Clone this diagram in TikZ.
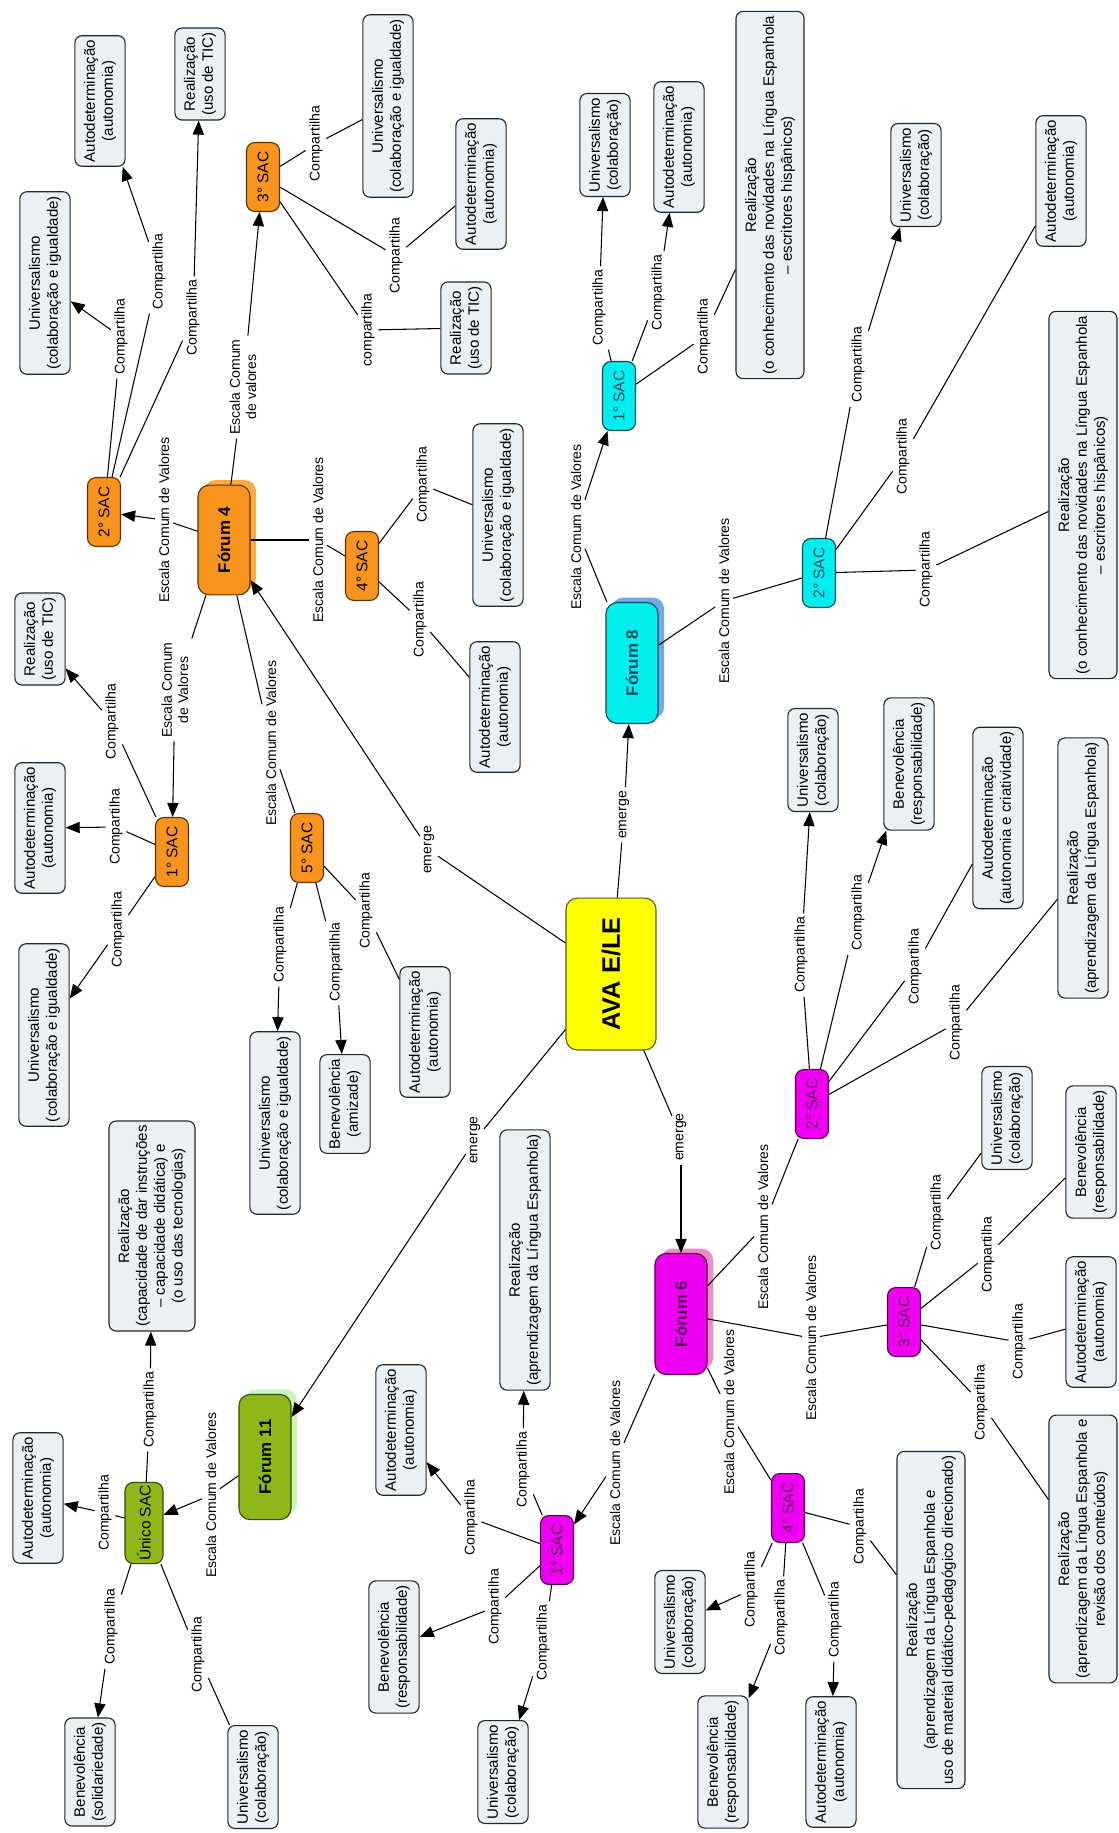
\documentclass[tikz,border=0pt]{standalone}
\usepackage{fontspec}
\setmainfont{Liberation Sans}
\usepackage{xcolor}
\usepackage{tikz}
\usetikzlibrary{arrows.meta}

\definecolor{caixa}{RGB}{234,240,244}
\definecolor{laranja}{RGB}{247,148,30}
\definecolor{laranjaborda}{RGB}{90,50,10}
\definecolor{laranjasombra}{RGB}{250,172,64}
\definecolor{ciano}{RGB}{0,238,240}
\definecolor{cianoborda}{RGB}{20,70,80}
\definecolor{cianotexto}{RGB}{25,75,95}
\definecolor{cianosombra}{RGB}{112,170,230}
\definecolor{magentaF}{RGB}{240,0,240}
\definecolor{magentaborda}{RGB}{80,0,80}
\definecolor{magentatexto}{RGB}{90,0,95}
\definecolor{magentasombra}{RGB}{240,140,195}
\definecolor{verde}{RGB}{142,184,24}
\definecolor{verdeborda}{RGB}{60,70,10}
\definecolor{verdesombra}{RGB}{200,245,185}
\definecolor{amarelo}{RGB}{255,255,0}
\definecolor{amareloborda}{RGB}{90,90,20}

\begin{document}
\begin{tikzpicture}[x=0.025cm, y=-0.025cm, >={Triangle[length=10pt,width=8pt]},
    conceito/.style={draw=black!85, line width=0.8pt, fill=caixa, rounded corners=5pt, rotate=90,
        align=center, inner xsep=3pt, inner ysep=6.5pt, font=\fontsize{10.7}{12.7}\selectfont},
    sac/.style={line width=0.8pt, rounded corners=6pt, rotate=90,
        minimum width=49pt, minimum height=23.5pt, inner sep=2pt, font=\fontsize{11}{13}\selectfont},
    forum/.style={line width=0.8pt, rounded corners=8pt, rotate=90,
        minimum width=86pt, minimum height=37pt, inner sep=2pt, font=\bfseries\fontsize{12}{14}\selectfont},
    sombra/.style={forum, draw=none},
    ava/.style={draw=amareloborda, line width=0.8pt, rounded corners=8pt, rotate=90, fill=amarelo,
        minimum width=108pt, minimum height=64pt, font=\bfseries\fontsize{18}{20}\selectfont},
    cor4/.style={fill=laranja, draw=laranjaborda},
    cor8/.style={fill=ciano, draw=cianoborda, text=cianotexto},
    cor6/.style={fill=magentaF, draw=magentaborda, text=magentatexto},
    cor11/.style={fill=verde, draw=verdeborda},
    rotulo/.style={rotate=90, align=center, inner sep=2.5pt, font=\fontsize{10}{11.5}\selectfont},
    liga/.style={line width=0.75pt},
    seta/.style={liga, ->}]

    \useasboundingbox (0,0) rectangle (1118,1833);

    % =================================================================
    % 1. NÓ CENTRAL E FÓRUNS (com sombras deslocadas)
    % =================================================================
    \node[ava] (AVA) at (611,974) {AVA E/LE};

    \node[sombra, fill=laranjasombra, minimum width=78pt] (F4sh) at (230,535) {\phantom{Fórum 4}};
    \node[sombra, fill=cianosombra] (F8sh) at (638,658) {\phantom{Fórum 8}};
    \node[sombra, fill=magentasombra] (F6sh) at (687,1309) {\phantom{Fórum 6}};
    \node[sombra, fill=verdesombra, minimum width=89pt] (F11sh) at (271,1452) {\phantom{Fórum 11}};

    \node[forum, cor4, minimum width=78pt] (F4) at (224,540) {Fórum 4};
    \node[forum, cor8] (F8) at (632,663) {Fórum 8};
    \node[forum, cor6] (F6) at (681,1314) {Fórum 6};
    \node[forum, cor11, minimum width=89pt] (F11) at (265,1457) {Fórum 11};

    % =================================================================
    % 2. OS SAC DE CADA FÓRUM
    % =================================================================
    \node[sac, cor4] (S2o) at (104,512) {2° SAC};
    \node[sac, cor4] (S3o) at (263,177) {3° SAC};
    \node[sac, cor4] (S1o) at (172,852) {1° SAC};
    \node[sac, cor4] (S4o) at (362,566) {4° SAC};
    \node[sac, cor4] (S5o) at (307,848) {5° SAC};

    \node[sac, cor8] (S1c) at (619,396) {1° SAC};
    \node[sac, cor8] (S2c) at (819,573) {2° SAC};

    \node[sac, cor6] (S2m) at (812,1104) {2° SAC};
    \node[sac, cor6] (S3m) at (904,1322) {3° SAC};
    \node[sac, cor6] (S1m) at (557,1550) {1° SAC};
    \node[sac, cor6] (S4m) at (788,1508) {4° SAC};

    \node[sac, cor11, minimum height=27pt] (SU) at (144,1523) {Único SAC};

    % =================================================================
    % 3. VALORES (caixas cinza-claras)
    % =================================================================
    % Fórum 4
    \node[conceito] (o2U) at (45,283) {Universalismo\\(colaboração e igualdade)};
    \node[conceito] (o2A) at (100,101) {Autodeterminação\\(autonomia)};
    \node[conceito] (o2R) at (200,74) {Realização\\(uso de TIC)};
    \node[conceito] (o3U) at (388,106) {Universalismo\\(colaboração e igualdade)};
    \node[conceito] (o3A) at (481,184) {Autodeterminação\\(autonomia)};
    \node[conceito] (o3R) at (466,328) {Realização\\(uso de TIC)};
    \node[conceito] (o4U) at (498,515) {Universalismo\\(colaboração e igualdade)};
    \node[conceito] (o4A) at (495,707) {Autodeterminação\\(autonomia)};
    \node[conceito] (o1R) at (40,639) {Realização\\(uso de TIC)};
    \node[conceito] (o1A) at (40,828) {Autodeterminação\\(autonomia)};
    \node[conceito] (o1U) at (44,1035) {Universalismo\\(colaboração e igualdade)};
    \node[conceito] (o5U) at (275,1123) {Universalismo\\(colaboração e igualdade)};
    \node[conceito] (o5B) at (345,1104) {Benevolência\\(amizade)};
    \node[conceito] (o5A) at (425,1032) {Autodeterminação\\(autonomia)};

    % Fórum 8
    \node[conceito] (c1U) at (605,145) {Universalismo\\(colaboração)};
    \node[conceito] (c1A) at (679,147) {Autodeterminação\\(autonomia)};
    \node[conceito] (c1R) at (770,195) {Realização\\(o conhecimento das novidades na Língua Espanhola\\– escritores hispânicos)};
    \node[conceito] (c2U) at (916,175) {Universalismo\\(colaboração)};
    \node[conceito] (c2A) at (1061,181) {Autodeterminação\\(autonomia)};
    \node[conceito] (c2R) at (1083,495) {Realização\\(o conhecimento das novidades na Língua Espanhola\\– escritores hispânicos)};

    % Fórum 6
    \node[conceito] (m2U) at (813,760) {Universalismo\\(colaboração)};
    \node[conceito] (m2B) at (909,764) {Benevolência\\(responsabilidade)};
    \node[conceito] (m2A) at (998,818) {Autodeterminação\\(autonomia e criatividade)};
    \node[conceito] (m2R) at (1083,868) {Realização\\(aprendizagem da Língua Espanhola)};
    \node[conceito] (m3U) at (1007,1118) {Universalismo\\(colaboração)};
    \node[conceito] (m3B) at (1091,1152) {Benevolência\\(responsabilidade)};
    \node[conceito] (m3A) at (1091,1322) {Autodeterminação\\(autonomia)};
    \node[conceito] (m3R) at (1083,1549) {Realização\\(aprendizagem da Língua Espanhola e\\revisão dos conteúdos)};
    \node[conceito] (m1R) at (525,1260) {Realização\\(aprendizagem da Língua Espanhola)};
    \node[conceito] (m1A) at (401,1430) {Autodeterminação\\(autonomia)};
    \node[conceito] (m1B) at (394,1647) {Benevolência\\(responsabilidade)};
    \node[conceito] (m1U) at (503,1772) {Universalismo\\(colaboração)};
    \node[conceito] (m4U) at (680,1622) {Universalismo\\(colaboração)};
    \node[conceito] (m4B) at (723,1762) {Benevolência\\(responsabilidade)};
    \node[conceito] (m4A) at (831,1762) {Autodeterminação\\(autonomia)};
    \node[conceito] (m4R) at (931,1620) {Realização\\(aprendizagem da Língua Espanhola e\\uso de material didático-pedagógico direcionado)};

    % Fórum 11
    \node[conceito] (gR) at (152,1226) {Realização\\(capacidade de dar instruções\\– capacidade didática) e\\(o uso das tecnologias)};
    \node[conceito] (gA) at (38,1498) {Autodeterminação\\(autonomia)};
    \node[conceito] (gB) at (90,1772) {Benevolência\\(solidariedade)};
    \node[conceito] (gU) at (253,1777) {Universalismo\\(colaboração)};

    % =================================================================
    % 4. PALAVRAS DE LIGAÇÃO
    % =================================================================
    \node[rotulo] (eF4) at (429,850) {emerge};
    \node[rotulo] (eF8) at (624,815) {emerge};
    \node[rotulo] (eF6) at (681,1137) {emerge};
    \node[rotulo] (eF11) at (475,1140) {emerge};

    \node[rotulo] (k2o) at (164,520) {Escala Comum de Valores};
    \node[rotulo] (k3o) at (243,387) {Escala Comum\\de valores};
    \node[rotulo] (k1o) at (175,690) {Escala Comum\\de Valores};
    \node[rotulo] (k4o) at (318,540) {Escala Comum de Valores};
    \node[rotulo] (k5o) at (271,743) {Escala Comum de Valores};
    \node[rotulo] (k1c) at (576,527) {Escala Comum de Valores};
    \node[rotulo] (k2c) at (724,601) {Escala Comum de Valores};
    \node[rotulo] (k2m) at (763,1227) {Escala Comum de Valores};
    \node[rotulo] (k3m) at (811,1338) {Escala Comum de Valores};
    \node[rotulo] (k1m) at (615,1463) {Escala Comum de Valores};
    \node[rotulo] (k4m) at (729,1412) {Escala Comum de Valores};
    \node[rotulo] (kU) at (211,1495) {Escala Comum de Valores};

    \node[rotulo] (lo2U) at (121,337) {Compartilha};
    \node[rotulo] (lo2A) at (159,272) {Compartilha};
    \node[rotulo] (lo2R) at (193,318) {Compartilha};
    \node[rotulo] (lo3U) at (316,144) {Compartilha};
    \node[rotulo] (lo3A) at (396,256) {Compartilha};
    \node[rotulo] (lo3R) at (368,330) {compartilha};
    \node[rotulo] (lo1R) at (112,722) {Compartilha};
    \node[rotulo] (lo1A) at (116,827) {Compartilha};
    \node[rotulo] (lo1U) at (118,930) {Compartilha};
    \node[rotulo] (lo4U) at (423,485) {Compartilha};
    \node[rotulo] (lo4A) at (420,620) {Compartilha};
    \node[rotulo] (lo5U) at (280,945) {Compartilha};
    \node[rotulo] (lo5B) at (336,962) {Compartilhla};
    \node[rotulo] (lo5A) at (366,911) {Compartilha};

    \node[rotulo] (lc1U) at (599,308) {Compartilha};
    \node[rotulo] (lc1A) at (658,293) {Compartilha};
    \node[rotulo] (lc1R) at (704,337) {Compartilha};
    \node[rotulo] (lc2U) at (858,365) {Compartilha};
    \node[rotulo] (lc2A) at (903,457) {Compartilha};
    \node[rotulo] (lc2R) at (926,570) {Compartilha};

    \node[rotulo] (lm2U) at (801,955) {Compartilha};
    \node[rotulo] (lm2B) at (858,913) {Compartilha};
    \node[rotulo] (lm2A) at (915,967) {Compartilha};
    \node[rotulo] (lm2R) at (956,1023) {Compartilha};
    \node[rotulo] (lm3U) at (937,1213) {Compartilha};
    \node[rotulo] (lm3B) at (988,1255) {Compartilha};
    \node[rotulo] (lm3A) at (1019,1342) {Compartilha};
    \node[rotulo] (lm3R) at (981,1403) {Compartilha};
    \node[rotulo] (lm1R) at (523,1470) {Compartilha};
    \node[rotulo] (lm1A) at (471,1518) {Compartilha};
    \node[rotulo] (lm1B) at (495,1607) {Compartilha};
    \node[rotulo] (lm1U) at (543,1643) {Compartilha};
    \node[rotulo] (lm4U) at (751,1590) {Compartilha};
    \node[rotulo] (lm4B) at (781,1618) {Compartilha};
    \node[rotulo] (lm4A) at (835,1620) {Compartilha};
    \node[rotulo] (lm4R) at (860,1527) {Compartilha};

    \node[rotulo] (lgR) at (150,1410) {Compartilha};
    \node[rotulo] (lgA) at (105,1513) {Compartilha};
    \node[rotulo] (lgB) at (111,1627) {Compartilha};
    \node[rotulo] (lgU) at (198,1655) {Compartilha};

    % =================================================================
    % 5. LIGAÇÕES (nó -> palavra -> nó)
    % =================================================================
    % AVA emerge nos fóruns
    \draw[liga] (AVA) -- (eF4);  \draw[seta] (eF4) -- (F4);
    \draw[liga] (AVA) -- (eF8);  \draw[seta] (eF8) -- (F8);
    \draw[liga] (AVA) -- (eF6);  \draw[seta] (eF6) -- (F6);
    \draw[liga] (AVA) -- (eF11); \draw[seta] (eF11) -- (F11);

    % Fórum 4
    \draw[liga] (F4) -- (k2o); \draw[seta] (k2o) -- (S2o);
    \draw[liga] (F4) -- (k3o); \draw[seta] (k3o) -- (S3o);
    \draw[liga] (F4) -- (k1o); \draw[seta] (k1o) -- (S1o);
    \draw[liga] (F4) -- (k4o); \draw[liga] (k4o) -- (S4o);
    \draw[liga] (F4) -- (k5o); \draw[liga] (k5o) -- (S5o);

    \draw[liga] (S2o) -- (lo2U); \draw[seta] (lo2U) -- (o2U);
    \draw[liga] (S2o) -- (lo2A); \draw[seta] (lo2A) -- (o2A);
    \draw[liga] (S2o) -- (lo2R); \draw[seta] (lo2R) -- (o2R);
    \draw[liga] (S3o) -- (lo3U); \draw[liga] (lo3U) -- (o3U);
    \draw[liga] (S3o) -- (lo3A); \draw[liga] (lo3A) -- (o3A);
    \draw[liga] (S3o) -- (lo3R); \draw[liga] (lo3R) -- (o3R);
    \draw[liga] (S1o) -- (lo1R); \draw[seta] (lo1R) -- (o1R);
    \draw[liga] (S1o) -- (lo1A); \draw[seta] (lo1A) -- (o1A);
    \draw[liga] (S1o) -- (lo1U); \draw[seta] (lo1U) -- (o1U);
    \draw[liga] (S4o) -- (lo4U); \draw[liga] (lo4U) -- (o4U);
    \draw[liga] (S4o) -- (lo4A); \draw[liga] (lo4A) -- (o4A);
    \draw[liga] (S5o) -- (lo5U); \draw[seta] (lo5U) -- (o5U);
    \draw[liga] (S5o) -- (lo5B); \draw[seta] (lo5B) -- (o5B);
    \draw[liga] (S5o) -- (lo5A); \draw[liga] (lo5A) -- (o5A);

    % Fórum 8
    \draw[liga] (F8) -- (k1c); \draw[seta] (k1c) -- (S1c);
    \draw[liga] (F8) -- (k2c); \draw[liga] (k2c) -- (S2c);

    \draw[liga] (S1c) -- (lc1U); \draw[seta] (lc1U) -- (c1U);
    \draw[liga] (S1c) -- (lc1A); \draw[seta] (lc1A) -- (c1A);
    \draw[liga] (S1c) -- (lc1R); \draw[liga] (lc1R) -- (c1R);
    \draw[liga] (S2c) -- (lc2U); \draw[seta] (lc2U) -- (c2U);
    \draw[liga] (S2c) -- (lc2A); \draw[liga] (lc2A) -- (c2A);
    \draw[liga] (S2c) -- (lc2R); \draw[liga] (lc2R) -- (c2R);

    % Fórum 6
    \draw[liga] (F6) -- (k2m); \draw[liga] (k2m) -- (S2m);
    \draw[liga] (F6) -- (k3m); \draw[liga] (k3m) -- (S3m);
    \draw[liga] (F6) -- (k1m); \draw[seta] (k1m) -- (S1m);
    \draw[liga] (F6) -- (k4m); \draw[liga] (k4m) -- (S4m);

    \draw[liga] (S2m) -- (lm2U); \draw[seta] (lm2U) -- (m2U);
    \draw[liga] (S2m) -- (lm2B); \draw[seta] (lm2B) -- (m2B);
    \draw[liga] (S2m) -- (lm2A); \draw[liga] (lm2A) -- (m2A);
    \draw[liga] (S2m) -- (lm2R); \draw[liga] (lm2R) -- (m2R);
    \draw[liga] (S3m) -- (lm3U); \draw[liga] (lm3U) -- (m3U);
    \draw[liga] (S3m) -- (lm3B); \draw[liga] (lm3B) -- (m3B);
    \draw[liga] (S3m) -- (lm3A); \draw[liga] (lm3A) -- (m3A);
    \draw[liga] (S3m) -- (lm3R); \draw[liga] (lm3R) -- (m3R);
    \draw[liga] (S1m) -- (lm1R); \draw[seta] (lm1R) -- (m1R);
    \draw[liga] (S1m) -- (lm1A); \draw[seta] (lm1A) -- (m1A);
    \draw[liga] (S1m) -- (lm1B); \draw[seta] (lm1B) -- (m1B);
    \draw[liga] (S1m) -- (lm1U); \draw[seta] (lm1U) -- (m1U);
    \draw[liga] (S4m) -- (lm4U); \draw[seta] (lm4U) -- (m4U);
    \draw[liga] (S4m) -- (lm4B); \draw[seta] (lm4B) -- (m4B);
    \draw[liga] (S4m) -- (lm4A); \draw[seta] (lm4A) -- (m4A);
    \draw[liga] (S4m) -- (lm4R); \draw[liga] (lm4R) -- (m4R);

    % Fórum 11
    \draw[liga] (F11) -- (kU); \draw[seta] (kU) -- (SU);

    \draw[liga] (SU) -- (lgR); \draw[seta] (lgR) -- (gR);
    \draw[liga] (SU) -- (lgA); \draw[seta] (lgA) -- (gA);
    \draw[liga] (SU) -- (lgB); \draw[seta] (lgB) -- (gB);
    \draw[liga] (SU) -- (lgU); \draw[liga] (lgU) -- (gU);

\end{tikzpicture}
\end{document}
